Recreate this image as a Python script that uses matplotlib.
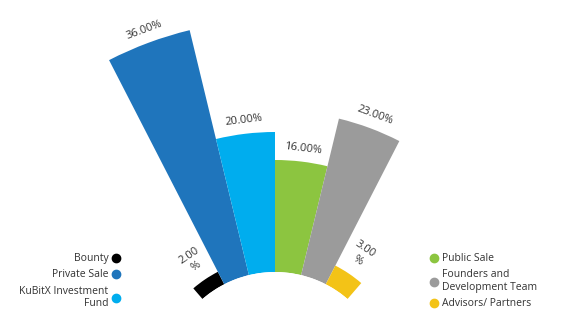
import numpy as np
import matplotlib
matplotlib.use("Agg")
import matplotlib.pyplot as plt
from matplotlib.lines import Line2D

plt.rcParams['font.family'] = ['Open Sans', 'DejaVu Sans']

# Token allocation, drawn left to right
categories = ['Bounty', 'Private Sale', 'KuBitX Investment\nFund',
              'Public Sale', 'Founders and\nDevelopment Team', 'Advisors/ Partners']
shares = [2, 36, 20, 16, 23, 3]
value_labels = ['2.00\n%', '36.00%', '20.00%', '16.00%', '23.00%', '3.00\n%']
colors = ['#000000', '#1f75bc', '#00adee', '#8cc540', '#9b9b9b', '#f3c317']

W, H = 566, 317
fig = plt.figure(figsize=(W / 100, H / 100), dpi=100)

# polar axes centred below the visible area
cx, cy = 275, 317 - 383          # centre in figure pixels (from bottom-left)
px_per_unit = 7.0
inner = 111 / px_per_unit
rmax = 40
half = (rmax + inner) * px_per_unit
ax = fig.add_axes([(cx - half) / W, (cy - half) / H, 2 * half / W, 2 * half / H],
                  projection='polar')
ax.set_ylim(0, rmax)
ax.set_rorigin(-inner)
ax.axis('off')

step = np.deg2rad(13.6)
theta = np.pi / 2 + step * (2.5 - np.arange(len(shares)))
ax.bar(theta, shares, width=step, bottom=0, color=colors, align='center')

for t, v, lab in zip(theta, shares, value_labels):
    off = 3.2 if '\n' in lab else 1.9
    ax.text(t, v + off, lab, rotation=np.rad2deg(t) - 90, rotation_mode='anchor',
            ha='center', va='center', fontsize=8, color='#333333',
            linespacing=1.3)

handles = [Line2D([], [], marker='o', ls='none', color=c, markersize=6) for c in colors]

left = fig.legend(handles[:3], categories[:3], loc='upper right',
                  bbox_to_anchor=(125 / W, 1 - 248 / H), markerfirst=False,
                  frameon=False, fontsize=7.5, handlelength=0.8,
                  handletextpad=0.3, labelspacing=0.5, borderpad=0)
for txt in left.get_texts():
    txt.set_multialignment('right')
    txt.set_color('#333333')

right = fig.legend(handles[3:], categories[3:], loc='upper left',
                   bbox_to_anchor=(425 / W, 1 - 248 / H), frameon=False,
                   fontsize=7.5, handlelength=0.8, handletextpad=0.3,
                   labelspacing=0.5, borderpad=0)
for txt in right.get_texts():
    txt.set_color('#333333')

fig.savefig('out.png', dpi=100)
